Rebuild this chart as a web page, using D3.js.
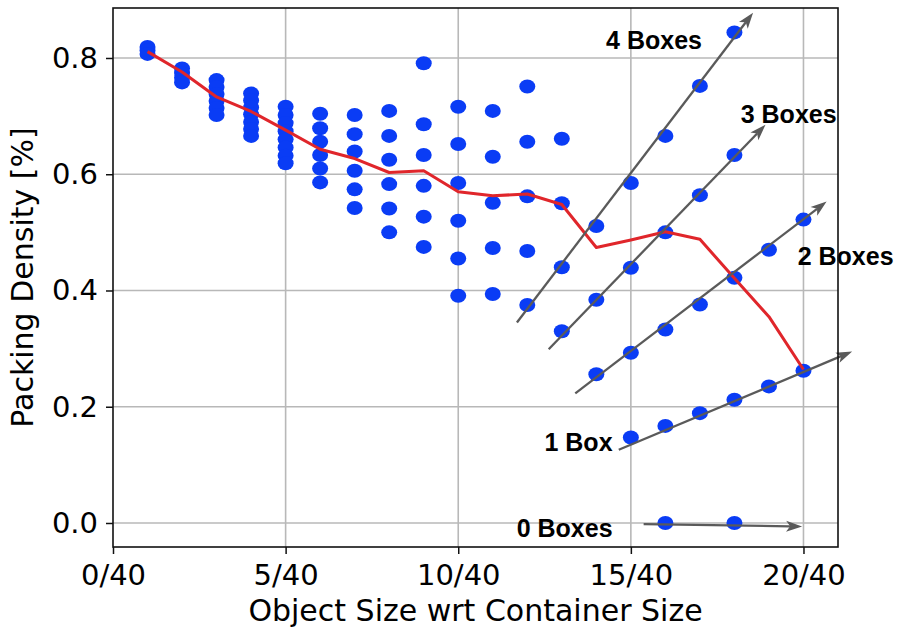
<!DOCTYPE html>
<html>
<head>
<meta charset="utf-8">
<script src="https://cdn.jsdelivr.net/npm/d3@7"></script>
<style>
  html, body { margin: 0; padding: 0; background: #fff; }
  svg { display: block; }
</style>
</head>
<body>
<div id="chart"></div>
<script>
// ---------------- data ----------------
// object size (in 1/40 of container size) for each column of measurements
const columnSizes = [1, 2, 3, 4, 5, 6, 7, 8, 9, 10, 11, 12, 13, 14, 15, 16, 17, 18, 19, 20];
// packing densities measured for each object size
const columnDensities = [
  [0.819, 0.813, 0.807],
  [0.782, 0.774, 0.766, 0.758],
  [0.762, 0.750, 0.738, 0.726, 0.714, 0.702],
  [0.739, 0.727, 0.715, 0.703, 0.690, 0.678, 0.666],
  [0.716, 0.702, 0.688, 0.674, 0.660, 0.646, 0.632, 0.619],
  [0.704, 0.679, 0.656, 0.633, 0.610, 0.586],
  [0.702, 0.669, 0.639, 0.606, 0.574, 0.542],
  [0.709, 0.666, 0.625, 0.583, 0.541, 0.500],
  [0.791, 0.686, 0.633, 0.580, 0.527, 0.475],
  [0.716, 0.652, 0.585, 0.520, 0.455, 0.391],
  [0.709, 0.630, 0.551, 0.473, 0.394],
  [0.751, 0.656, 0.562, 0.468, 0.375],
  [0.661, 0.550, 0.440, 0.330],
  [0.511, 0.384, 0.256],
  [0.585, 0.439, 0.293, 0.147],
  [0.666, 0.500, 0.333, 0.167, 0.000],
  [0.752, 0.564, 0.376, 0.189],
  [0.844, 0.633, 0.422, 0.212, 0.000],
  [0.470, 0.235],
  [0.522, 0.262]
];
// average packing density per object size (red line)
const meanDensity = [0.811, 0.776, 0.733, 0.708, 0.676, 0.643, 0.627, 0.603, 0.606, 0.570,
                     0.563, 0.566, 0.548, 0.474, 0.487, 0.501, 0.488, 0.421, 0.355, 0.264];

// annotation arrows ("n Boxes" families), in data coordinates
const arrowLabels = ["4 Boxes", "3 Boxes", "2 Boxes", "1 Box", "0 Boxes"];
const arrowStartX = [11.70, 12.62, 13.39, 14.65, 15.37];
const arrowStartY = [0.345, 0.299, 0.223, 0.126, -0.002];
const arrowEndX   = [18.54, 18.90, 20.67, 21.41, 19.96];
const arrowEndY   = [0.878, 0.685, 0.553, 0.295, -0.006];
const labelX      = [17.06, 20.96, 22.61, 14.47, 14.47];
const labelY      = [0.815, 0.688, 0.443, 0.123, -0.0235];

// axes
const xTickValues = [0, 5, 10, 15, 20];
const xTickLabels = ["0/40", "5/40", "10/40", "15/40", "20/40"];
const yTickValues = [0.0, 0.2, 0.4, 0.6, 0.8];
const yTickLabels = ["0.0", "0.2", "0.4", "0.6", "0.8"];
const xTitle = "Object Size wrt Container Size";
const yTitle = "Packing Density [%]";

// ---------------- layout ----------------
const W = 902, H = 629;
const plot = { left: 113, right: 838, top: 8, bottom: 547 };
const FONT = "'DejaVu Sans', sans-serif";
const BOLD = "'Liberation Sans', Arial, sans-serif";
const DOT = "#0a3cf5", RED = "#e0262b", ARROW = "#5a5a5a", GRID = "#b8b8b8";

const x = d3.scaleLinear().domain([0, 21]).range([plot.left, plot.right]);
const y = d3.scaleLinear().domain([-0.0413, 0.8860]).range([plot.bottom, plot.top]);

const svg = d3.select("#chart").append("svg")
  .attr("width", W).attr("height", H)
  .attr("viewBox", `0 0 ${W} ${H}`);

// grid
const grid = svg.append("g");
grid.selectAll("line.gx").data(xTickValues.filter(v => v > 0)).join("line")
  .attr("x1", d => x(d)).attr("x2", d => x(d))
  .attr("y1", plot.top).attr("y2", plot.bottom)
  .attr("stroke", GRID).attr("stroke-width", 1.6);
grid.selectAll("line.gy").data(yTickValues).join("line")
  .attr("y1", d => y(d)).attr("y2", d => y(d))
  .attr("x1", plot.left).attr("x2", plot.right)
  .attr("stroke", GRID).attr("stroke-width", 1.6);

// scatter points
const points = [];
columnSizes.forEach((s, i) => columnDensities[i].forEach(v => points.push({ s, v })));
svg.append("g").selectAll("ellipse").data(points).join("ellipse")
  .attr("cx", d => x(d.s)).attr("cy", d => y(d.v))
  .attr("rx", 8).attr("ry", 7)
  .attr("fill", DOT);

// mean line
const line = d3.line().x((d, i) => x(columnSizes[i])).y(d => y(d));
svg.append("path").datum(meanDensity)
  .attr("d", line)
  .attr("fill", "none").attr("stroke", RED).attr("stroke-width", 3)
  .attr("stroke-linejoin", "round");

// arrows
const arrows = svg.append("g");
arrowLabels.forEach((lab, i) => {
  const x0 = x(arrowStartX[i]), y0 = y(arrowStartY[i]);
  const x1 = x(arrowEndX[i]), y1 = y(arrowEndY[i]);
  const ang = Math.atan2(y1 - y0, x1 - x0);
  const L = 16, hw = 5.5, notch = 12;
  const ux = Math.cos(ang), uy = Math.sin(ang);
  const px = -uy, py = ux;
  const bx = x1 - ux * L, by = y1 - uy * L;
  const nx = x1 - ux * notch, ny = y1 - uy * notch;
  arrows.append("line")
    .attr("x1", x0).attr("y1", y0).attr("x2", nx).attr("y2", ny)
    .attr("stroke", ARROW).attr("stroke-width", 2.3);
  arrows.append("path")
    .attr("d", `M${x1},${y1}L${bx + px * hw},${by + py * hw}L${nx},${ny}L${bx - px * hw},${by - py * hw}Z`)
    .attr("fill", ARROW);
  arrows.append("text")
    .attr("x", x(labelX[i])).attr("y", y(labelY[i]))
    .attr("text-anchor", "end")
    .attr("font-family", BOLD).attr("font-weight", "bold").attr("font-size", 25)
    .attr("fill", "#000")
    .text(lab);
});

// frame
svg.append("rect")
  .attr("x", plot.left).attr("y", plot.top)
  .attr("width", plot.right - plot.left).attr("height", plot.bottom - plot.top)
  .attr("fill", "none").attr("stroke", "#111").attr("stroke-width", 1.6);

// axes
const xAxis = d3.axisBottom(x).tickValues(xTickValues)
  .tickFormat((d, i) => xTickLabels[i]).tickSize(7).tickPadding(10);
const yAxis = d3.axisLeft(y).tickValues(yTickValues)
  .tickFormat((d, i) => yTickLabels[i]).tickSize(7).tickPadding(8);

const gx = svg.append("g").attr("transform", `translate(0,${plot.bottom})`).call(xAxis);
const gy = svg.append("g").attr("transform", `translate(${plot.left},0)`).call(yAxis);
[gx, gy].forEach(g => {
  g.select(".domain").remove();
  g.selectAll(".tick line").attr("stroke", "#111").attr("stroke-width", 1.5);
  g.selectAll(".tick text").attr("font-family", FONT).attr("font-size", 29).attr("fill", "#000");
});

// titles
svg.append("text")
  .attr("x", (plot.left + plot.right) / 2).attr("y", 621)
  .attr("text-anchor", "middle")
  .attr("font-family", FONT).attr("font-size", 30).attr("fill", "#000")
  .text(xTitle);
svg.append("text")
  .attr("transform", `translate(33,${(plot.top + plot.bottom) / 2}) rotate(-90)`)
  .attr("text-anchor", "middle")
  .attr("font-family", FONT).attr("font-size", 30).attr("fill", "#000")
  .text(yTitle);
</script>
</body>
</html>
